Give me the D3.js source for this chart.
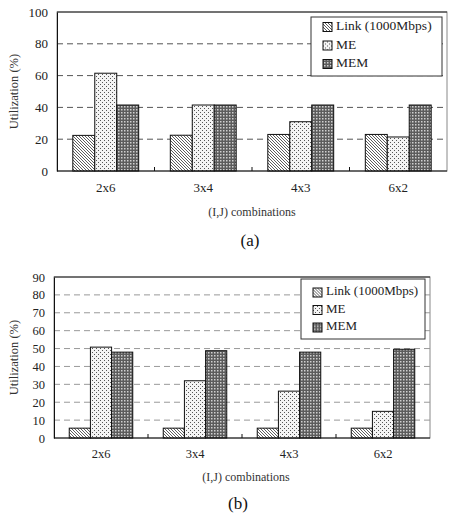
<!DOCTYPE html>
<html>
<head>
<meta charset="utf-8">
<script src="https://cdn.jsdelivr.net/npm/d3@7"></script>
<style>
  body { margin: 0; background: #fff; }
  svg { display: block; font-family: "Liberation Serif", "Times New Roman", serif; }
</style>
</head>
<body>
<svg id="chart" width="450" height="513"></svg>
<script>
// Categories and series shared by both panels
const combos = ['2x6', '3x4', '4x3', '6x2'];
const seriesNames = ['Link (1000Mbps)', 'ME', 'MEM'];

// Panel (a) values, in %
const linkA = [22.4, 22.5, 23.0, 23.0];
const meA = [61.5, 41.5, 31.0, 21.4];
const memA = [41.5, 41.5, 41.5, 41.5];
const ticksA = [0, 20, 40, 60, 80, 100];

// Panel (b) values, in %
const linkB = [5.5, 5.5, 5.5, 5.5];
const meB = [50.8, 32.0, 26.2, 14.9];
const memB = [48.0, 48.8, 48.0, 49.6];
const ticksB = [0, 10, 20, 30, 40, 50, 60, 70, 80, 90];

const svg = d3.select('#chart');
const defs = svg.append('defs');

// Fill patterns roughly like the old Excel hatches
const link = defs.append('pattern')
  .attr('id', 'pLink').attr('patternUnits', 'userSpaceOnUse')
  .attr('width', 3).attr('height', 3);
link.append('rect').attr('width', 3).attr('height', 3).attr('fill', '#fff');
link.append('path').attr('d', 'M0,0L3,3M-1,2L1,4M2,-1L4,1')
  .attr('stroke', '#333').attr('stroke-width', 0.8);

const me = defs.append('pattern')
  .attr('id', 'pME').attr('patternUnits', 'userSpaceOnUse')
  .attr('width', 4).attr('height', 4);
me.append('rect').attr('width', 4).attr('height', 4).attr('fill', '#f4f4f4');
me.append('rect').attr('x', 0).attr('y', 0).attr('width', 1).attr('height', 1).attr('fill', '#555');
me.append('rect').attr('x', 2).attr('y', 2).attr('width', 1).attr('height', 1).attr('fill', '#555');

const mem = defs.append('pattern')
  .attr('id', 'pMEM').attr('patternUnits', 'userSpaceOnUse')
  .attr('width', 3).attr('height', 3);
mem.append('rect').attr('width', 3).attr('height', 3).attr('fill', '#5c5c5c');
mem.append('rect').attr('x', 1).attr('y', 1).attr('width', 1.5).attr('height', 1.5).attr('fill', '#d0d0d0');

const fills = ['url(#pLink)', 'url(#pME)', 'url(#pMEM)'];

// Draws one grouped bar panel with its legend and captions
function panel({ box, values, ticks, maxY, grid, tickFont, legendBox, tickLabelY, titleY, titleX, caption }) {
  const x = d3.scaleBand().domain(combos).range([box.left, box.right]);
  const xs = d3.scaleBand().domain(d3.range(3)).range([0, x.bandwidth()]).paddingOuter(0.72);
  const y = d3.scaleLinear().domain([0, maxY]).range([box.bottom, box.top]);
  const g = svg.append('g');

  // plot frame
  g.append('rect')
    .attr('x', box.left).attr('y', box.top)
    .attr('width', box.right - box.left).attr('height', box.bottom - box.top)
    .attr('fill', 'none').attr('stroke', '#888').attr('stroke-width', 1);

  // dashed gridlines
  g.selectAll('.grid').data(ticks.filter(t => t > 0 && t < maxY)).join('line')
    .attr('x1', box.left).attr('x2', box.right)
    .attr('y1', d => y(d)).attr('y2', d => y(d))
    .attr('stroke', grid).attr('stroke-dasharray', '6,4');

  g.append('line').attr('x1', box.left).attr('x2', box.right)
    .attr('y1', box.top).attr('y2', box.top).attr('stroke', '#222');

  // bars
  const series = values.map((vals, si) => vals.map((v, ci) => ({ si, c: combos[ci], v })));
  g.selectAll('.bar').data(series.flat()).join('rect')
    .attr('x', d => x(d.c) + xs(d.si))
    .attr('y', d => y(d.v))
    .attr('width', xs.bandwidth())
    .attr('height', d => y(0) - y(d.v))
    .attr('fill', d => fills[d.si])
    .attr('stroke', '#111').attr('stroke-width', 1);

  // y axis
  const yAxis = g.append('g')
    .attr('transform', 'translate(' + box.left + ',0)')
    .call(d3.axisLeft(y).tickValues(ticks).tickSize(0).tickPadding(9));
  yAxis.select('.domain').attr('stroke', '#111');
  yAxis.selectAll('text').attr('font-family', 'Liberation Serif').attr('font-size', tickFont).attr('fill', '#222');

  // x axis with ticks at category boundaries
  g.append('line').attr('x1', box.left).attr('x2', box.right)
    .attr('y1', box.bottom).attr('y2', box.bottom).attr('stroke', '#111');
  g.selectAll('.sep').data(combos.slice(1)).join('line')
    .attr('x1', d => x(d)).attr('x2', d => x(d))
    .attr('y1', box.bottom).attr('y2', box.bottom - 4).attr('stroke', '#111');
  g.selectAll('.xl').data(combos).join('text')
    .attr('x', d => x(d) + x.bandwidth() / 2).attr('y', tickLabelY)
    .attr('text-anchor', 'middle').attr('dominant-baseline', 'middle')
    .attr('font-size', tickFont).attr('fill', '#222').text(d => d);

  // axis titles
  g.append('text')
    .attr('transform', 'translate(15,' + (box.top + box.bottom) / 2 + ') rotate(-90)')
    .attr('text-anchor', 'middle').attr('dominant-baseline', 'middle')
    .attr('font-size', 12.5).attr('fill', '#333').text('Utilization (%)');
  g.append('text').attr('x', titleX).attr('y', titleY)
    .attr('text-anchor', 'middle').attr('dominant-baseline', 'middle')
    .attr('font-size', 12).attr('fill', '#333').text('(I,J) combinations');
  g.append('text').attr('x', caption.x).attr('y', caption.y)
    .attr('text-anchor', 'middle').attr('dominant-baseline', 'middle')
    .attr('font-size', 17).attr('fill', '#111').text(caption.text);

  // legend
  const lb = legendBox;
  g.append('rect').attr('x', lb.x).attr('y', lb.y).attr('width', lb.w).attr('height', lb.h)
    .attr('fill', '#fff').attr('stroke', '#333').attr('stroke-width', 1);
  const rows = g.selectAll('.leg').data(seriesNames).join('g')
    .attr('transform', (d, i) => 'translate(' + (lb.x + lb.pad) + ',' + (lb.y + lb.first + i * lb.step) + ')');
  rows.append('rect').attr('x', 0).attr('y', -4.5).attr('width', 9).attr('height', 9)
    .attr('fill', (d, i) => fills[i]).attr('stroke', '#111');
  rows.append('text').attr('x', 13).attr('y', 0).attr('dominant-baseline', 'middle')
    .attr('font-size', lb.font).attr('fill', '#222').text(d => d);
}

panel({
  box: { left: 57, right: 447, top: 12, bottom: 171 },
  values: [linkA, meA, memA], ticks: ticksA, maxY: 100, grid: '#555', tickFont: 13,
  legendBox: { x: 311, y: 17, w: 131, h: 59, pad: 12, first: 10, step: 18.5, font: 13.5 },
  tickLabelY: 189, titleY: 213, titleX: 252, caption: { text: '(a)', x: 250, y: 242 }
});

panel({
  box: { left: 54, right: 430, top: 277, bottom: 438 },
  values: [linkB, meB, memB], ticks: ticksB, maxY: 90, grid: '#999', tickFont: 12.5,
  legendBox: { x: 301, y: 279, w: 124, h: 60, pad: 12, first: 13.5, step: 17.5, font: 13 },
  tickLabelY: 455, titleY: 478, titleX: 246, caption: { text: '(b)', x: 238, y: 505 }
});
</script>
</body>
</html>
